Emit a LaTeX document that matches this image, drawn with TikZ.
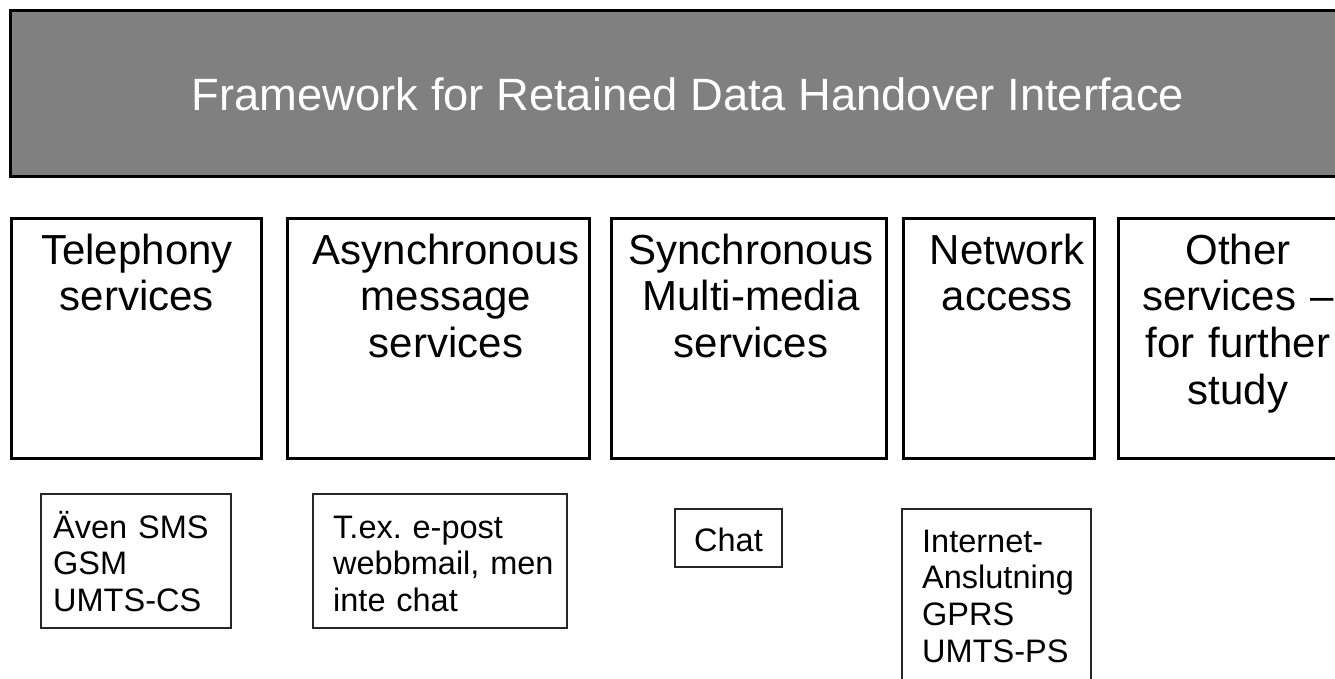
\documentclass[tikz,border=0pt]{standalone}
\usepackage{fontspec}
\setmainfont{Liberation Sans}
\frenchspacing
\begin{document}
\begin{tikzpicture}[x=1pt,y=-1pt,
  thickbox/.style={draw=black,line width=3pt,inner sep=0pt,outer sep=0pt,anchor=north west},
  thinbox/.style={draw=black!85,line width=1.3pt,inner sep=0pt,outer sep=0pt,anchor=north west},
  svclabel/.style={anchor=base,inner sep=0pt,text width=270pt,align=center,font=\fontsize{42}{46.8}\selectfont},
  smalllabel/.style={anchor=base west,inner sep=0pt,text width=300pt,align=left,font=\fontsize{32.5}{36.8}\selectfont}]
\useasboundingbox (0,0) rectangle (1335,678);
\clip (0,0) rectangle (1335,678);
% header
\node[thickbox,fill=black!50,minimum width=1334.5pt,minimum height=166pt] (frame) at (10.5,10.5) {};
\node[anchor=base,inner sep=0pt,text=white,font=\fontsize{45.3}{50}\selectfont] (title) at (688,110) {Framework for Retained Data Handover Interface};
% service boxes
\node[thickbox,minimum width=249.5pt,minimum height=240pt] (tel) at (11.5,218.5) {};
\node[thickbox,minimum width=302pt,minimum height=240pt] (async) at (287,218.5) {};
\node[thickbox,minimum width=275pt,minimum height=240pt] (sync) at (611.5,218.5) {};
\node[thickbox,minimum width=190.5pt,minimum height=240pt] (net) at (903.5,218.5) {};
\node[thickbox,minimum width=242pt,minimum height=240pt] (other) at (1118,218.5) {};
\node[svclabel] (telt) at (137,264) {Telephony\\services};
\node[svclabel] (asynct) at (446,264) {Asynchronous\\message\\services};
\node[svclabel] (synct) at (751,264) {Synchronous\\Multi-media\\services};
\node[svclabel] (nett) at (1007,264) {Network\\access};
\node[svclabel] (othert) at (1238,264) {Other\\services –\\for further\\study};
% example boxes
\node[thinbox,minimum width=190pt,minimum height=134pt] (ex1) at (41,494) {};
\node[thinbox,minimum width=254pt,minimum height=134pt] (ex2) at (313,494) {};
\node[thinbox,minimum width=107pt,minimum height=58pt] (ex3) at (675,509) {};
\node[thinbox,minimum width=189pt,minimum height=200pt] (ex4) at (902,509) {};
\node[smalllabel] (ex1t) at (53,538) {Även SMS\\GSM\\UMTS-CS};
\node[smalllabel] (ex2t) at (333,538) {T.ex. e-post\\webbmail, men\\inte chat};
\node[anchor=base,inner sep=0pt,font=\fontsize{32.5}{36.8}\selectfont] (ex3t) at (728.5,551) {Chat};
\node[smalllabel] (ex4t) at (922,552) {Internet-\\Anslutning\\GPRS\\UMTS-PS};
\end{tikzpicture}
\end{document}
